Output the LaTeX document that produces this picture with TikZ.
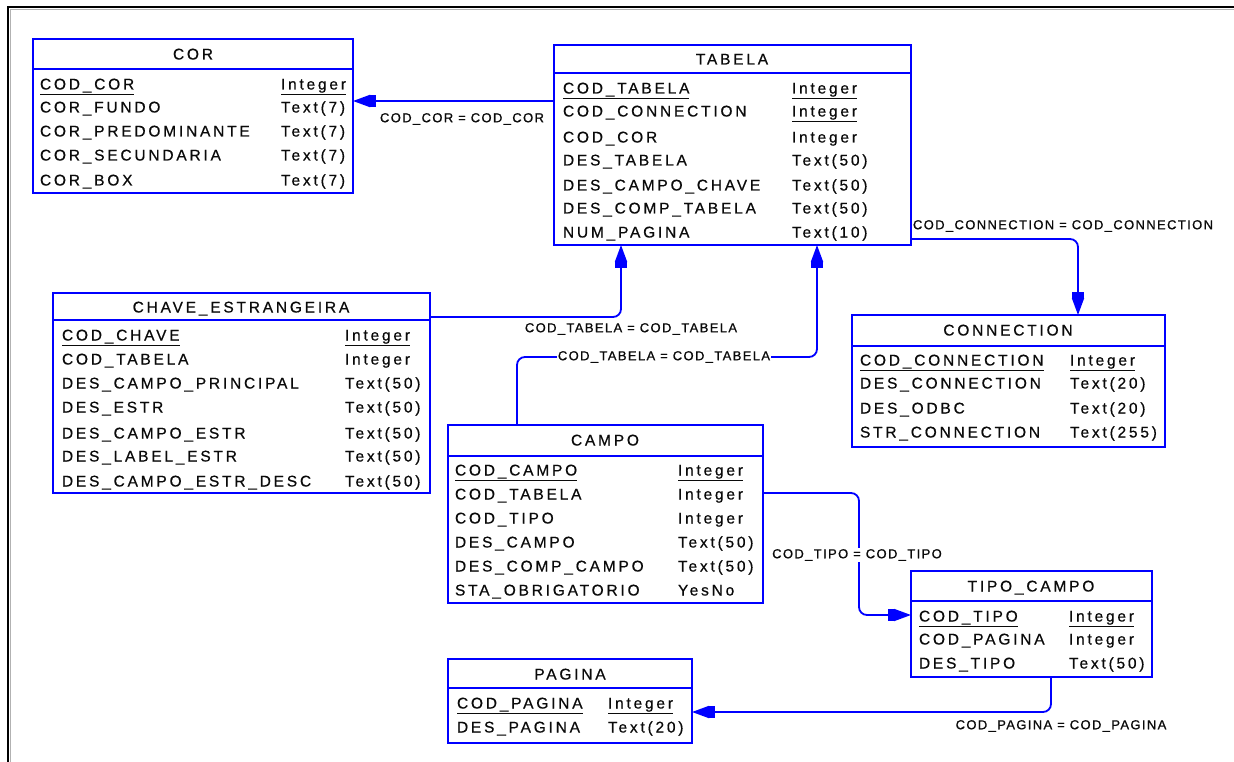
\documentclass[tikz,border=0pt]{standalone}
\usepackage{fontspec}
\setmainfont{Liberation Sans}
\newfontfamily\fieldfont[LetterSpace=18,FakeBold=0.6]{Liberation Sans}
\newfontfamily\lblfont[LetterSpace=10.5,FakeBold=0.9]{Liberation Sans}
\usetikzlibrary{arrows.meta}
\definecolor{erblue}{RGB}{0,0,255}
\definecolor{ertext}{RGB}{10,10,10}
\tikzset{
  tbl/.style={draw=erblue, line width=1.5pt, inner sep=0pt, outer sep=0pt, anchor=north west},
  hdr/.style={draw=erblue, line width=1.5pt},
  fld/.style={anchor=base west, inner sep=0pt, outer sep=0pt, font=\fieldfont\fontsize{15.5}{17}\selectfont, text=ertext},
  ttl/.style={fld, anchor=base},
  rel/.style={draw=erblue, line width=1.8pt, rounded corners=8pt, -{Rectangle[length=6pt,width=12pt] Triangle[length=17pt,width=12pt]}},
  lbl/.style={inner sep=1pt, font=\lblfont\fontsize{13}{15}\selectfont, text=ertext},
  erframe/.style={line width=2.5pt, black}
}
% \erow{prefix}{index}{centre y}{name}{type}
\newcommand\erow[5]{%
  \node[fld] (#1n#2) at (\nx,#3+5.5) {#4};
  \node[fld] (#1t#2) at (\tx,#3+5.5) {#5};}
\begin{document}
\begin{tikzpicture}[x=1pt,y=-1pt]
\useasboundingbox (0,0) rectangle (1234,762);
% frame
\draw[gray!60, line width=1pt] (10.5,762) -- (10.5,9.5) -- (1234,9.5);
\draw[erframe] (8,762) -- (8,7) -- (1234,7);

% ---------- COR ----------
\node[tbl, minimum width=320pt, minimum height=154pt] (cor) at (33,39) {};
\draw[hdr] (cor.west |- 0,69) -- (cor.east |- 0,69);
\node[ttl] (corT) at (193,59.5) {COR};
\def\nx{40}\def\tx{281}
\erow{cor}{1}{84}{\underline{COD\_COR}}{\underline{Integer}}
\erow{cor}{2}{107}{COR\_FUNDO}{Text(7)}
\erow{cor}{3}{131}{COR\_PREDOMINANTE}{Text(7)}
\erow{cor}{4}{155}{COR\_SECUNDARIA}{Text(7)}
\erow{cor}{5}{180}{COR\_BOX}{Text(7)}

% ---------- TABELA ----------
\node[tbl, minimum width=357pt, minimum height=200pt] (tabela) at (554,45) {};
\draw[hdr] (tabela.west |- 0,73) -- (tabela.east |- 0,73);
\node[ttl] (tabelaT) at (732,64.5) {TABELA};
\def\nx{563}\def\tx{792}
\erow{tab}{1}{88}{\underline{COD\_TABELA}}{\underline{Integer}}
\erow{tab}{2}{111}{COD\_CONNECTION}{\underline{Integer}}
\erow{tab}{3}{137}{COD\_COR}{Integer}
\erow{tab}{4}{160}{DES\_TABELA}{Text(50)}
\erow{tab}{5}{185}{DES\_CAMPO\_CHAVE}{Text(50)}
\erow{tab}{6}{208}{DES\_COMP\_TABELA}{Text(50)}
\erow{tab}{7}{232}{NUM\_PAGINA}{Text(10)}

% ---------- CHAVE_ESTRANGEIRA ----------
\node[tbl, minimum width=377pt, minimum height=200pt] (chave) at (53,293) {};
\draw[hdr] (chave.west |- 0,320) -- (chave.east |- 0,320);
\node[ttl] (chaveT) at (241,312.5) {CHAVE\_ESTRANGEIRA};
\def\nx{62}\def\tx{345}
\erow{ch}{1}{335}{\underline{COD\_CHAVE}}{\underline{Integer}}
\erow{ch}{2}{359}{COD\_TABELA}{Integer}
\erow{ch}{3}{383}{DES\_CAMPO\_PRINCIPAL}{Text(50)}
\erow{ch}{4}{407}{DES\_ESTR}{Text(50)}
\erow{ch}{5}{433}{DES\_CAMPO\_ESTR}{Text(50)}
\erow{ch}{6}{456}{DES\_LABEL\_ESTR}{Text(50)}
\erow{ch}{7}{481}{DES\_CAMPO\_ESTR\_DESC}{Text(50)}

% ---------- CONNECTION ----------
\node[tbl, minimum width=313pt, minimum height=132pt] (connection) at (852,315) {};
\draw[hdr] (connection.west |- 0,346) -- (connection.east |- 0,346);
\node[ttl] (connectionT) at (1008,335.5) {CONNECTION};
\def\nx{860}\def\tx{1070}
\erow{cn}{1}{360}{\underline{COD\_CONNECTION}}{\underline{Integer}}
\erow{cn}{2}{383}{DES\_CONNECTION}{Text(20)}
\erow{cn}{3}{408}{DES\_ODBC}{Text(20)}
\erow{cn}{4}{432}{STR\_CONNECTION}{Text(255)}

% ---------- CAMPO ----------
\node[tbl, minimum width=315pt, minimum height=178pt] (campo) at (448,425) {};
\draw[hdr] (campo.west |- 0,456) -- (campo.east |- 0,456);
\node[ttl] (campoT) at (605,445.5) {CAMPO};
\def\nx{455}\def\tx{678}
\erow{ca}{1}{470}{\underline{COD\_CAMPO}}{\underline{Integer}}
\erow{ca}{2}{494}{COD\_TABELA}{Integer}
\erow{ca}{3}{518}{COD\_TIPO}{Integer}
\erow{ca}{4}{542}{DES\_CAMPO}{Text(50)}
\erow{ca}{5}{566}{DES\_COMP\_CAMPO}{Text(50)}
\erow{ca}{6}{590}{STA\_OBRIGATORIO}{YesNo}

% ---------- TIPO_CAMPO ----------
\node[tbl, minimum width=241pt, minimum height=106pt] (tipo) at (911,571) {};
\draw[hdr] (tipo.west |- 0,601) -- (tipo.east |- 0,601);
\node[ttl] (tipoT) at (1031,591.5) {TIPO\_CAMPO};
\def\nx{919}\def\tx{1069}
\erow{tp}{1}{616}{\underline{COD\_TIPO}}{\underline{Integer}}
\erow{tp}{2}{639}{COD\_PAGINA}{Integer}
\erow{tp}{3}{663}{DES\_TIPO}{Text(50)}

% ---------- PAGINA ----------
\node[tbl, minimum width=244pt, minimum height=84pt] (pagina) at (448,659) {};
\draw[hdr] (pagina.west |- 0,688) -- (pagina.east |- 0,688);
\node[ttl] (paginaT) at (570,679.5) {PAGINA};
\def\nx{457}\def\tx{608}
\erow{pg}{1}{703}{\underline{COD\_PAGINA}}{\underline{Integer}}
\erow{pg}{2}{727}{DES\_PAGINA}{Text(20)}

% ---------- relationships ----------
\draw[rel] (tabela.west |- 0,101) -- (cor.east |- 0,101);
\node[lbl] (l1) at (462,119) {COD\_COR = COD\_COR};

\draw[rel] (chave.east |- 0,317) -- (621,317) -- (tabela.south -| 621,0);
\node[lbl] (l2) at (631,329) {COD\_TABELA = COD\_TABELA};

\draw[rel] (campo.north -| 517,0) -- (517,357) -- (817,357) -- (tabela.south -| 817,0);
\node[lbl, fill=white] (l3) at (664,357) {COD\_TABELA = COD\_TABELA};

\draw[rel] (tabela.east |- 0,239) -- (1078,239) -- (connection.north -| 1078,0);
\node[lbl] (l4) at (1063,226) {COD\_CONNECTION = COD\_CONNECTION};

\draw[rel] (campo.east |- 0,493) -- (859,493) -- (859,615) -- (tipo.west |- 0,615);
\node[lbl, fill=white] (l5) at (857,555) {COD\_TIPO = COD\_TIPO};

\draw[rel] (tipo.south -| 1051,0) -- (1051,712) -- (pagina.east |- 0,712);
\node[lbl] (l6) at (1061,726) {COD\_PAGINA = COD\_PAGINA};
\end{tikzpicture}
\end{document}
